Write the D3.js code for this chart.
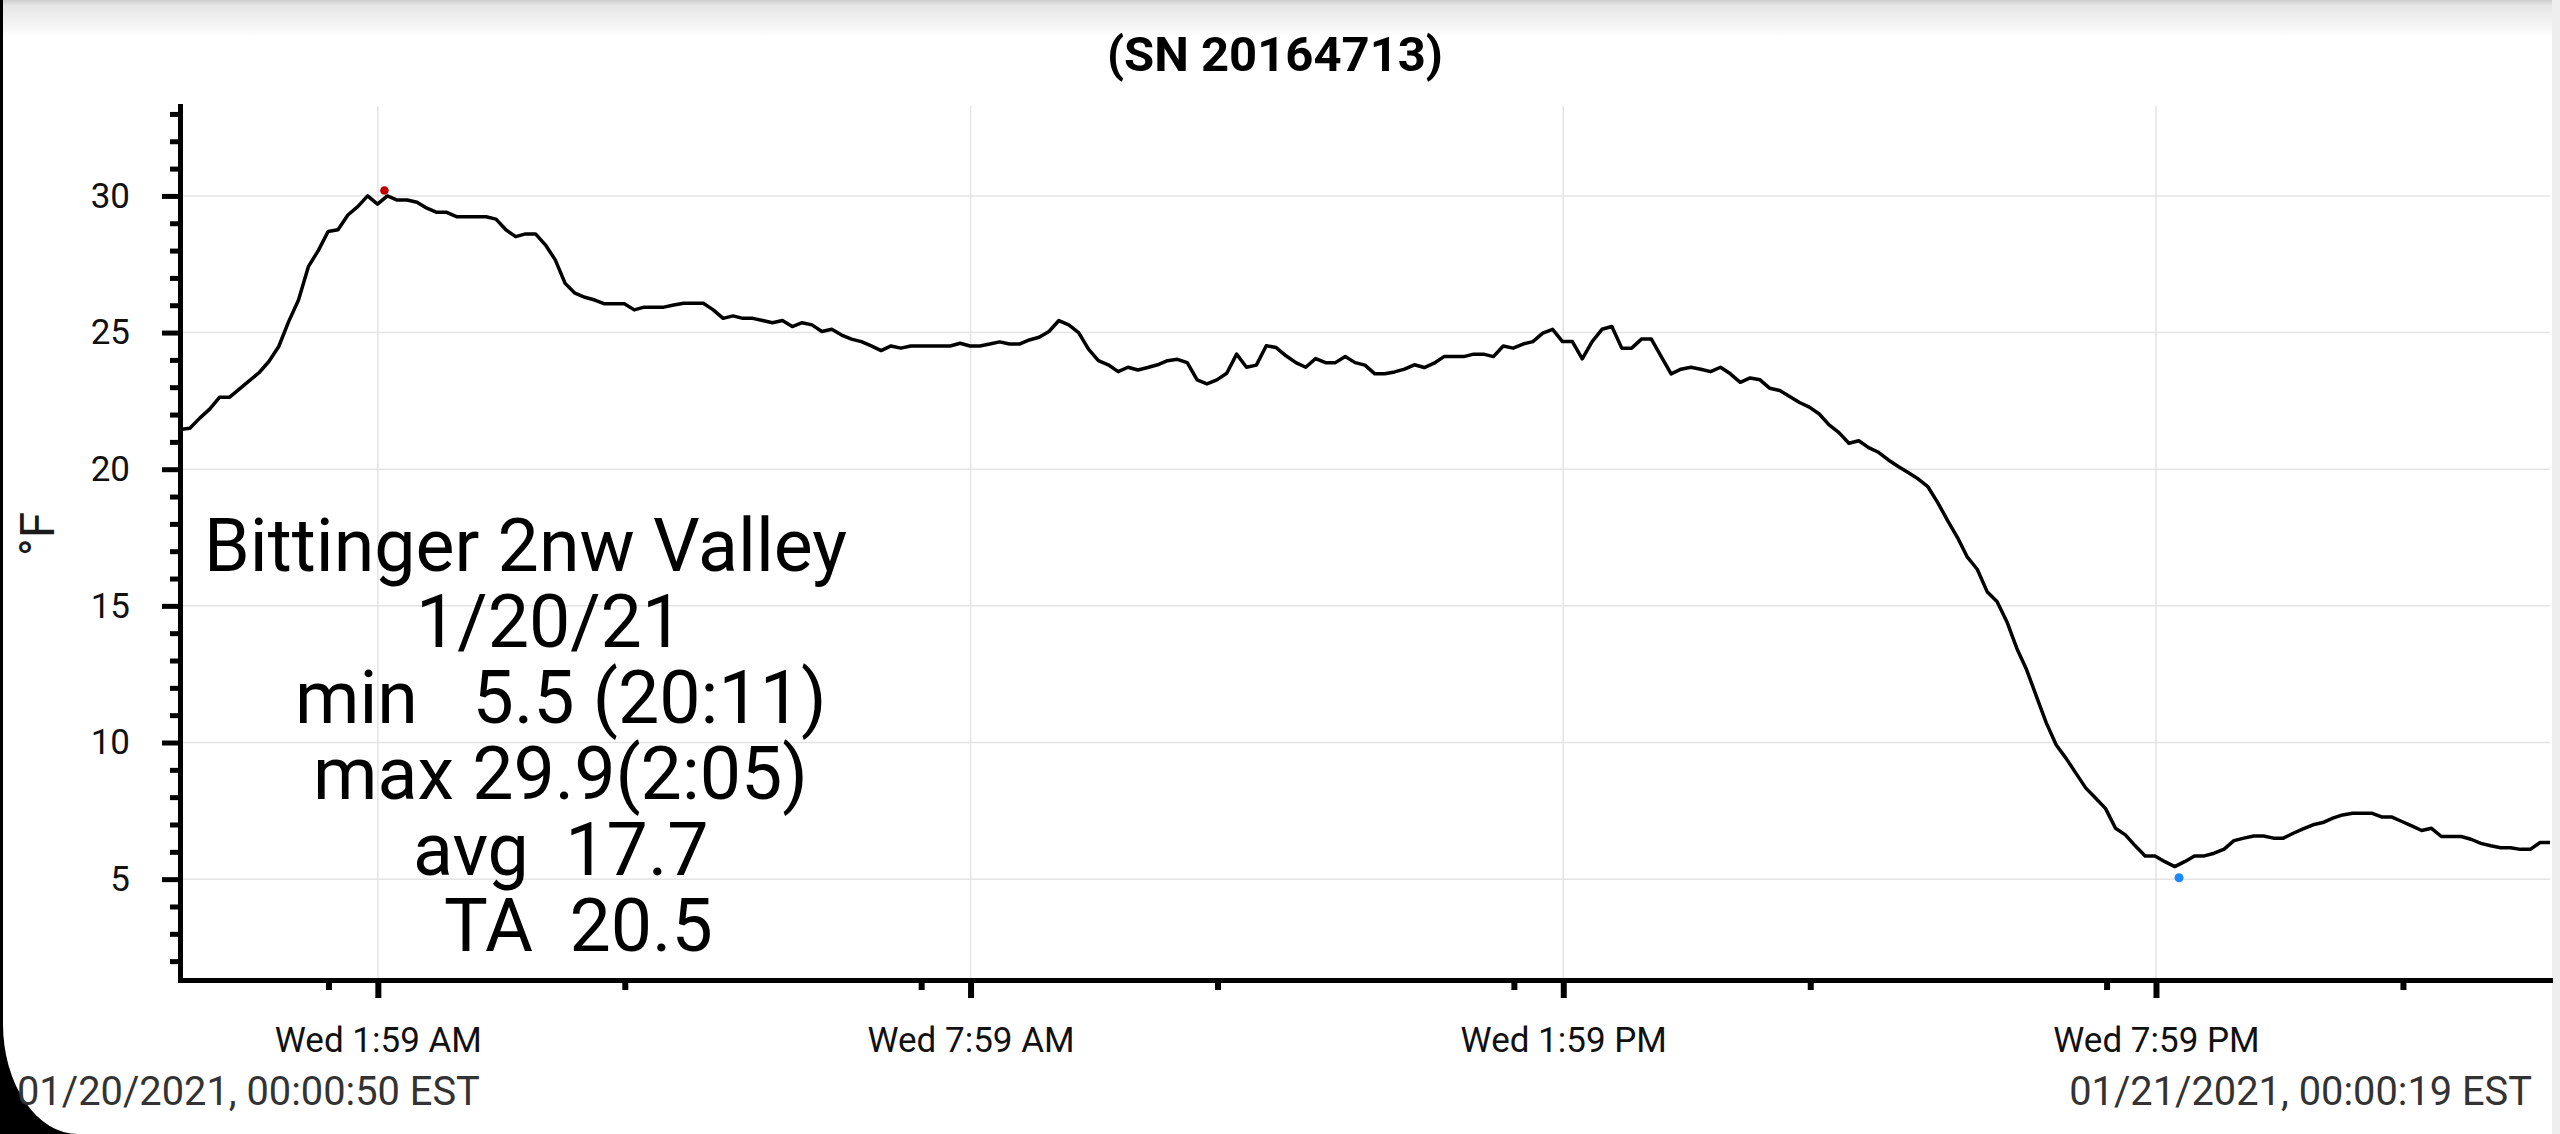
<!DOCTYPE html>
<html>
<head>
<meta charset="utf-8">
<script src="https://cdn.jsdelivr.net/npm/d3@7"></script>
<style>
  html, body { margin: 0; padding: 0; background: #000; }
  svg { display: block; font-family: Roboto, "Noto Sans", sans-serif; }
  .axis path, .axis line { stroke: #000; }
  .axis text { font-family: Roboto, sans-serif; fill: #111; }
  .stats text { white-space: pre; }
</style>
</head>
<body>
<svg id="chart"></svg>
<script>
// ---- data ----
const title = '(SN 20164713)';
const yLabel = '°F';
const startLabel = '01/20/2021, 00:00:50 EST';
const endLabel = '01/21/2021, 00:00:19 EST';
const firstSample = '2021-01-20T00:00:50';
const lastSample = '2021-01-21T00:00:19';

// logger readings (°F), one per sample between first and last sample
const temps = [
  21.45, 21.5, 21.87, 22.2, 22.63, 22.63, 22.93, 23.23, 23.53, 23.94,
  24.49, 25.4, 26.19, 27.41, 28.0, 28.7, 28.76, 29.3, 29.61, 30.0,
  29.7, 30.0, 29.85, 29.85, 29.77, 29.55, 29.4, 29.4, 29.24, 29.24,
  29.24, 29.24, 29.15, 28.76, 28.51, 28.61, 28.61, 28.21, 27.66, 26.8,
  26.44, 26.29, 26.19, 26.05, 26.05, 26.05, 25.83, 25.93, 25.93, 25.93,
  26.01, 26.07, 26.07, 26.07, 25.83, 25.52, 25.61, 25.52, 25.52, 25.44,
  25.36, 25.44, 25.22, 25.36, 25.28, 25.04, 25.12, 24.91, 24.76, 24.67,
  24.51, 24.34, 24.51, 24.43, 24.51, 24.51, 24.51, 24.51, 24.51, 24.61,
  24.51, 24.51, 24.58, 24.66, 24.58, 24.58, 24.73, 24.83, 25.04, 25.44,
  25.28, 25.0, 24.39, 23.97, 23.82, 23.57, 23.73, 23.63, 23.72, 23.82,
  23.97, 24.02, 23.9, 23.27, 23.12, 23.27, 23.51, 24.21, 23.73, 23.81,
  24.52, 24.45, 24.15, 23.9, 23.73, 24.05, 23.9, 23.9, 24.12, 23.9,
  23.81, 23.49, 23.49, 23.56, 23.66, 23.82, 23.72, 23.88, 24.12, 24.12,
  24.12, 24.21, 24.21, 24.12, 24.51, 24.43, 24.58, 24.67, 24.98, 25.12,
  24.67, 24.67, 24.04, 24.67, 25.12, 25.22, 24.43, 24.43, 24.76, 24.76,
  24.12, 23.49, 23.66, 23.73, 23.66, 23.57, 23.73, 23.49, 23.18, 23.34,
  23.27, 22.96, 22.88, 22.66, 22.44, 22.27, 22.02, 21.62, 21.34, 20.95,
  21.04, 20.79, 20.62, 20.34, 20.1, 19.88, 19.65, 19.36, 18.78, 18.12,
  17.5, 16.78, 16.34, 15.52, 15.16, 14.42, 13.45, 12.66, 11.68, 10.71,
  9.91, 9.42, 8.87, 8.33, 7.96, 7.58, 6.86, 6.62, 6.22, 5.85,
  5.85, 5.64, 5.46, 5.64, 5.85, 5.85, 5.95, 6.1, 6.41, 6.5,
  6.58, 6.58, 6.5, 6.5, 6.68, 6.84, 6.99, 7.07, 7.23, 7.35,
  7.41, 7.41, 7.41, 7.27, 7.27, 7.11, 6.95, 6.78, 6.86, 6.56,
  6.56, 6.56, 6.46, 6.31, 6.22, 6.15, 6.15, 6.09, 6.09, 6.34,
  6.34
];

const yDomain = [1.31, 33.29];
const yMajorTicks = [5, 10, 15, 20, 25, 30];
const yMinorTicks = [2, 3, 4, 6, 7, 8, 9, 11, 12, 13, 14, 16, 17, 18, 19, 21, 22, 23, 24, 26, 27, 28, 29, 31, 32, 33];

const xMajorTicks = ['2021-01-20T02:01', '2021-01-20T08:01', '2021-01-20T14:01', '2021-01-20T20:01'];
const xMajorLabels = ['Wed 1:59 AM', 'Wed 7:59 AM', 'Wed 1:59 PM', 'Wed 7:59 PM'];
const xMinorTicks = ['2021-01-20T01:31', '2021-01-20T04:31', '2021-01-20T07:31', '2021-01-20T10:31',
                     '2021-01-20T13:31', '2021-01-20T16:31', '2021-01-20T19:31', '2021-01-20T22:31'];

const statsLines = ['Bittinger 2nw Valley', '1/20/21', 'min   5.5 (20:11)', 'max 29.9(2:05)', 'avg  17.7', 'TA  20.5'];
const maxMarker = { time: '2021-01-20T02:05', value: 30.2 };
const minMarker = { time: '2021-01-20T20:15', value: 5.05 };

// ---- layout ----
const W = 2560, H = 1134;
const plot = { left: 180, right: 2550, top: 106, bottom: 980 };
const statsX = [204, 416, 295, 313, 413, 444];   // left edge of each stats line
const statsBaseline = 571, statsStep = 76;

const parse = s => new Date(s);
const t0 = parse(firstSample), t1 = parse(lastSample);
const step = (t1 - t0) / (temps.length - 1);
const series = temps.map((v, i) => ({ date: new Date(+t0 + i * step), value: v }));

const svg = d3.select('#chart').attr('width', W).attr('height', H);

// screen frame: black left edge with rounded bottom-left corner
svg.append('rect').attr('width', W).attr('height', H).attr('fill', '#000');
svg.append('path')
    .attr('d', `M3,0 H${W} V${H} H78 A75,110 0 0 1 3,1024 Z`)
    .attr('fill', '#fff');
const defs = svg.append('defs');
const grad = defs.append('linearGradient').attr('id', 'topShade')
    .attr('x1', 0).attr('x2', 0).attr('y1', 0).attr('y2', 1);
grad.append('stop').attr('offset', '0%').attr('stop-color', '#cfcfcf');
grad.append('stop').attr('offset', '15%').attr('stop-color', '#e6e6e6');
grad.append('stop').attr('offset', '100%').attr('stop-color', '#ffffff');
svg.append('rect').attr('x', 3).attr('y', 0).attr('width', W - 3).attr('height', 38).attr('fill', 'url(#topShade)');
svg.append('rect').attr('x', 2552).attr('y', 0).attr('width', 8).attr('height', H).attr('fill', '#eeeeee');

const x = d3.scaleTime().domain([t0, t1]).range([plot.left, plot.right]);
const y = d3.scaleLinear().domain(yDomain).range([plot.bottom, plot.top]);

// gridlines
const grid = svg.append('g').attr('stroke', '#e4e4e4').attr('stroke-width', 1.5);
grid.selectAll('.hgrid').data(yMajorTicks).join('line')
    .attr('x1', plot.left).attr('x2', plot.right)
    .attr('y1', d => y(d)).attr('y2', d => y(d));
grid.selectAll('.vgrid').data(xMajorTicks).join('line')
    .attr('x1', d => x(parse(d))).attr('x2', d => x(parse(d)))
    .attr('y1', plot.top).attr('y2', plot.bottom);

// title
svg.append('text')
    .attr('x', 1275).attr('y', 71)
    .attr('text-anchor', 'middle')
    .style('font-size', '49px').style('font-weight', 'bold').attr('fill', '#000')
    .text(title);

// stats block
svg.append('g').attr('class', 'stats')
  .selectAll('text').data(statsLines).join('text')
    .attr('x', (d, i) => statsX[i])
    .attr('y', (d, i) => statsBaseline + i * statsStep)
    .style('font-size', '73.5px').attr('fill', '#000')
    .text(d => d);

// temperature line
svg.append('path')
    .datum(series)
    .attr('fill', 'none')
    .attr('stroke', '#000')
    .attr('stroke-width', 3.5)
    .attr('stroke-linejoin', 'round')
    .attr('d', d3.line().x(d => x(d.date)).y(d => y(d.value)));

// max / min markers
svg.append('circle').attr('cx', x(parse(maxMarker.time))).attr('cy', y(maxMarker.value))
    .attr('r', 4.3).attr('fill', '#c00000');
svg.append('circle').attr('cx', x(parse(minMarker.time))).attr('cy', y(minMarker.value))
    .attr('r', 4.5).attr('fill', '#1e88ff');

// y axis
const yMinor = svg.append('g').attr('class', 'axis')
    .attr('transform', `translate(${plot.left},0)`)
    .call(d3.axisLeft(y).tickValues(yMinorTicks).tickSize(10).tickSizeOuter(0).tickFormat(''));
yMinor.select('.domain').remove();
yMinor.selectAll('line').attr('stroke-width', 5);

const yAxisG = svg.append('g').attr('class', 'axis')
    .attr('transform', `translate(${plot.left},0)`)
    .call(d3.axisLeft(y).tickValues(yMajorTicks).tickSize(18).tickSizeOuter(0).tickPadding(32));
yAxisG.select('.domain').attr('stroke-width', 5).attr('stroke-linecap', 'square');
yAxisG.selectAll('line').attr('stroke-width', 5);
yAxisG.selectAll('text').style('font-size', '35px').attr('fill', '#1a1a1a');

// x axis
const xMinor = svg.append('g').attr('class', 'axis')
    .attr('transform', `translate(0,${plot.bottom})`)
    .call(d3.axisBottom(x).tickValues(xMinorTicks.map(parse)).tickSize(10).tickSizeOuter(0).tickFormat(''));
xMinor.select('.domain').remove();
xMinor.selectAll('line').attr('stroke-width', 6);

const xAxisG = svg.append('g').attr('class', 'axis')
    .attr('transform', `translate(0,${plot.bottom})`)
    .call(d3.axisBottom(x).tickValues(xMajorTicks.map(parse)).tickSize(18).tickSizeOuter(0).tickPadding(29)
      .tickFormat((d, i) => xMajorLabels[i]));
xAxisG.select('.domain').attr('stroke-width', 5).attr('stroke-linecap', 'square');
xAxisG.selectAll('line').attr('stroke-width', 6);
xAxisG.selectAll('text').style('font-size', '35px').attr('fill', '#111');

// y axis title
svg.append('text')
    .attr('transform', 'translate(54,534) rotate(-90)')
    .attr('text-anchor', 'middle')
    .style('font-size', '48px').attr('fill', '#1a1a1a')
    .text(yLabel);

// start / end timestamps
svg.append('text').attr('x', 17).attr('y', 1105)
    .style('font-size', '39.8px').attr('fill', '#333').text(startLabel);
svg.append('text').attr('x', 2532).attr('y', 1105).attr('text-anchor', 'end')
    .style('font-size', '39.8px').attr('fill', '#333').text(endLabel);
</script>
</body>
</html>
